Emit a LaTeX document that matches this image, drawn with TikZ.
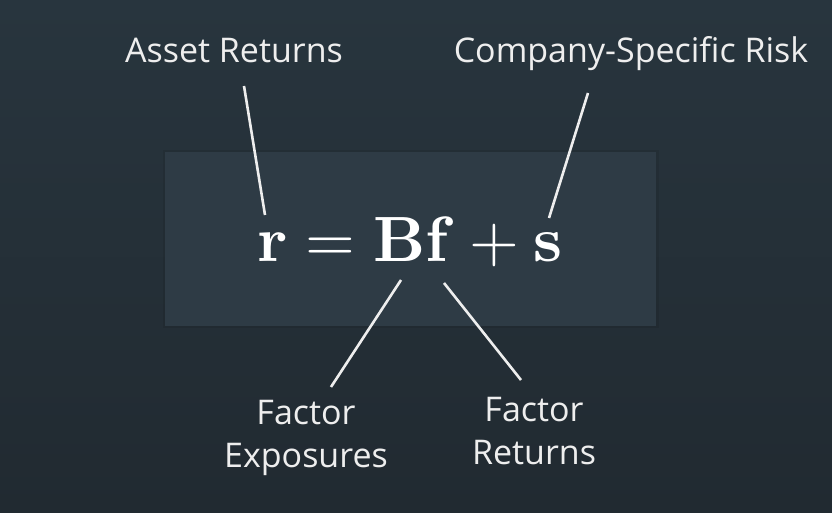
\documentclass[tikz,border=0pt]{standalone}
\usepackage[no-math]{fontspec}
\newfontfamily\labelfont{Open Sans}
\definecolor{bgtop}{HTML}{28353E}
\definecolor{bgbot}{HTML}{212A31}
\definecolor{panel}{HTML}{2E3B45}
\definecolor{ink}{HTML}{EEEEEE}
\tikzset{
  lbl/.style={text=ink, font=\labelfont\fontsize{34}{43}\selectfont, align=center, inner sep=0pt},
  pointer/.style={draw=ink, line width=2.6pt},
  eqn/.style={text=white, inner sep=0pt, anchor=base}
}
\begin{document}
\begin{tikzpicture}[x=1pt,y=1pt]
  % canvas with soft vertical gradient
  \shade[top color=bgtop, bottom color=bgbot] (0,0) rectangle (832,513);
  \useasboundingbox (0,0) rectangle (832,513);
  % faint shadow and panel behind the equation
  \fill[black, opacity=0.08] (163,185) rectangle (659,363);
  \fill[panel] (165,187) rectangle (656,361);
  % the equation
  \node[eqn] (eq) at (410,251) {\scalebox{6.4}{$\mathbf{r}=\mathbf{Bf}+\mathbf{s}$}};
  % labels
  \node[lbl, anchor=base] (asset) at (234,450) {Asset Returns};
  \node[lbl, anchor=base] (csr) at (631,450) {Company-Specific Risk};
  \node[lbl, anchor=base] (fexp) at (306,45) {Factor\\Exposures};
  \node[lbl, anchor=base] (fret) at (534,48) {Factor\\Returns};
  % connector end points
  \coordinate (assetEnd) at (244,427);
  \coordinate (rTop) at (265,298);
  \coordinate (csrEnd) at (588,420);
  \coordinate (sTop) at (549,295);
  \coordinate (bBot) at (401,233);
  \coordinate (fexpEnd) at (331,126);
  \coordinate (fBot) at (444,230);
  \coordinate (fretEnd) at (521,133);
  \draw[pointer] (assetEnd) -- (rTop);
  \draw[pointer] (csrEnd) -- (sTop);
  \draw[pointer] (bBot) -- (fexpEnd);
  \draw[pointer] (fBot) -- (fretEnd);
\end{tikzpicture}
\end{document}
